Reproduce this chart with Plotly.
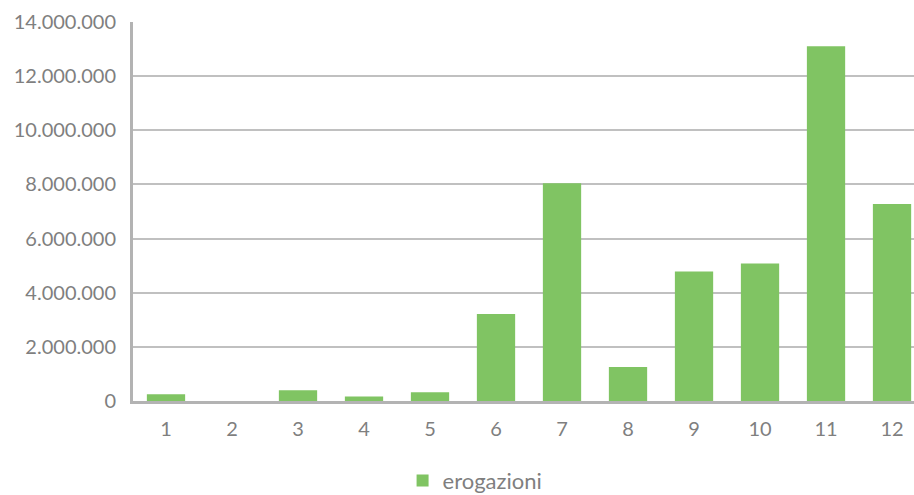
import plotly.graph_objects as go

months = [1, 2, 3, 4, 5, 6, 7, 8, 9, 10, 11, 12]
erogazioni = [245000, 0, 400000, 170000, 320000, 3210000, 8040000,
              1260000, 4780000, 5080000, 13100000, 7280000]
y_ticks = [0, 2000000, 4000000, 6000000, 8000000, 10000000, 12000000, 14000000]

FONT = "Lato"
GRAY = "#7f7f7f"

fig = go.Figure()
fig.add_trace(go.Bar(
    x=months, y=erogazioni, name="erogazioni",
    marker=dict(color="#80c463", line=dict(width=0)),
))

fig.update_layout(
    width=914, height=495,
    margin=dict(l=133, r=0, t=22, b=94),
    paper_bgcolor="white", plot_bgcolor="white",
    separators=",.",
    bargap=0.42,
    font=dict(family=FONT, size=20, color=GRAY),
    showlegend=True,
    legend=dict(orientation="h", xref="paper", yref="container",
                x=0.438, y=0.029, xanchor="center", yanchor="middle",
                font=dict(family=FONT, size=22, color=GRAY)),
    xaxis=dict(range=[0.5, 12.333], tickmode="array", tickvals=months,
               ticktext=[str(m) for m in months],
               showgrid=False, showline=True, linecolor="#b3b3b3", linewidth=3,
               ticks="outside", ticklen=8, tickcolor="rgba(0,0,0,0)",
               tickfont=dict(family=FONT, size=20, color=GRAY), zeroline=False),
    yaxis=dict(range=[0, 14000000], tickmode="array", tickvals=y_ticks,
               tickformat=",d",
               showgrid=True, gridcolor="#c0c0c0", gridwidth=2,
               showline=True, linecolor="#b3b3b3", linewidth=3,
               ticks="outside", ticklen=10, tickcolor="rgba(0,0,0,0)",
               tickfont=dict(family=FONT, size=20, color=GRAY), zeroline=False),
)

fig.write_html("out.html", config={"displayModeBar": False},
               post_script="document.body.style.margin='0';")
